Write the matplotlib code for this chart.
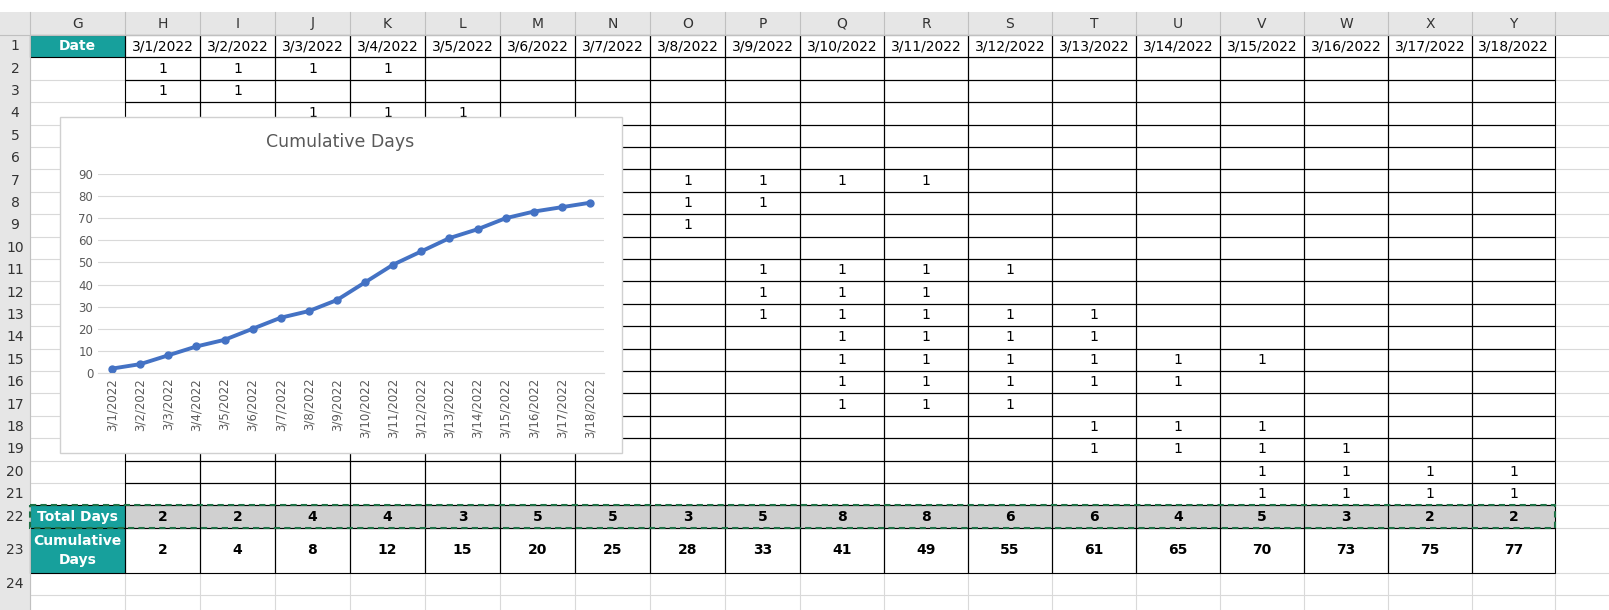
import matplotlib
matplotlib.use("Agg")
import matplotlib.pyplot as plt
from matplotlib.patches import Rectangle

dates = [f"3/{d}/2022" for d in range(1, 19)]
col_letters = list("HIJKLMNOPQRSTUVWXY")
total_days = [2, 2, 4, 4, 3, 5, 5, 3, 5, 8, 8, 6, 6, 4, 5, 3, 2, 2]
cumulative = [2, 4, 8, 12, 15, 20, 25, 28, 33, 41, 49, 55, 61, 65, 70, 73, 75, 77]
ones = {2: "HIJK", 3: "HI", 4: "JKL", 7: "OPQR", 8: "OP", 9: "O", 11: "PQRS",
        12: "PQR", 13: "PQRST", 14: "QRST", 15: "QRSTUV", 16: "QRSTU", 17: "QRS",
        18: "TUV", 19: "TUVW", 20: "VWXY", 21: "VWXY"}

W, H = 1609, 610
fig = plt.figure(figsize=(W / 100, H / 100), dpi=100)
ax = fig.add_axes([0, 0, 1, 1])
ax.set_xlim(0, W); ax.set_ylim(H, 0); ax.axis("off")

teal = "#17A09C"
xb = [0, 30, 125] + [125 + 75 * i for i in range(1, 10)]
xb += [800 + 84 * i for i in range(1, 10)]
xb[-1] = 1555
col_edges = xb
hdr_top, hdr_bot = 12, 35
row_tops = {}
y = hdr_bot
for r in range(1, 25):
    h = 45 if r == 23 else 22.4
    row_tops[r] = (y, y + h)
    y += h

fs = 10
ax.add_patch(Rectangle((0, hdr_top), W, hdr_bot - hdr_top, fc="#E6E6E6", ec="none"))
ax.add_patch(Rectangle((0, hdr_top), 30, H, fc="#E6E6E6", ec="none"))
letters = ["G"] + col_letters
for i, L in enumerate(letters):
    x0, x1 = col_edges[i + 1], col_edges[i + 2]
    ax.text((x0 + x1) / 2, (hdr_top + hdr_bot) / 2, L, ha="center", va="center", fontsize=fs, color="#333")
    ax.plot([x1, x1], [hdr_top, hdr_bot], color="#C0C0C0", lw=0.8)
for r, (t, b) in row_tops.items():
    ax.plot([0, W], [b, b], color="#D9D9D9", lw=0.8, zorder=0)
    ax.text(15, (t + b) / 2, str(r), ha="center", va="center", fontsize=fs, color="#333")
for x in col_edges[1:]:
    ax.plot([x, x], [hdr_bot, H], color="#D9D9D9", lw=0.8, zorder=0)
ax.plot([0, W], [hdr_bot, hdr_bot], color="#C0C0C0", lw=0.8)
ax.plot([30, 30], [hdr_top, H], color="#C0C0C0", lw=0.8)

gx0, gx1 = col_edges[1], col_edges[2]
for r, label in [(1, "Date"), (22, "Total Days"), (23, "Cumulative\nDays")]:
    t, b = row_tops[r]
    ax.add_patch(Rectangle((gx0, t), gx1 - gx0, b - t, fc=teal, ec="black", lw=0.8))
    ax.text((gx0 + gx1) / 2, (t + b) / 2, label, ha="center", va="center", color="white",
            fontsize=fs, fontweight="bold", linespacing=1.5)
t22, b22 = row_tops[22]
ax.add_patch(Rectangle((col_edges[2], t22), 1555 - col_edges[2], b22 - t22, fc="#D0D0D0", ec="none"))

for j in range(18):
    x0, x1 = col_edges[j + 2], col_edges[j + 3]
    cx = (x0 + x1) / 2
    for r in range(1, 24):
        t, b = row_tops[r]
        ax.add_patch(Rectangle((x0, t), x1 - x0, b - t, fc="none", ec="black", lw=0.8))
    t, b = row_tops[1]
    ax.text(cx, (t + b) / 2, dates[j], ha="center", va="center", fontsize=fs)
    for r, cols in ones.items():
        if col_letters[j] in cols:
            t, b = row_tops[r]
            ax.text(cx, (t + b) / 2, "1", ha="center", va="center", fontsize=fs)
    t, b = row_tops[22]
    ax.text(cx, (t + b) / 2, str(total_days[j]), ha="center", va="center", fontsize=fs, fontweight="bold")
    t, b = row_tops[23]
    ax.text(cx, (t + b) / 2, str(cumulative[j]), ha="center", va="center", fontsize=fs, fontweight="bold")
ax.add_patch(Rectangle((gx0, t22), 1555 - gx0, b22 - t22, fc="none", ec="#1E7145", lw=1.5, ls=(0, (3, 2)), zorder=5))

ax.add_patch(Rectangle((60, 117), 562, 336, fc="white", ec="#D0D0D0", lw=1, zorder=6))
ax.text(340, 142, "Cumulative Days", ha="center", va="center", fontsize=12.5, color="#595959", zorder=7)

cax = fig.add_axes([98 / W, (H - 373) / H, 506 / W, 199 / H])
cax.set_zorder(10)
cax.patch.set_alpha(0)
xs = range(len(dates))
cax.plot(xs, cumulative, color="#4472C4", lw=2.8, marker="o", ms=5)
cax.set_xlim(-0.5, 17.5); cax.set_ylim(0, 90)
cax.set_yticks(range(0, 91, 10))
cax.set_xticks(list(xs)); cax.set_xticklabels(dates, rotation=90, fontsize=8.5, color="#595959")
cax.tick_params(axis="y", labelsize=8.5, colors="#595959", length=0)
cax.tick_params(axis="x", length=0)
cax.grid(axis="y", color="#D9D9D9", lw=0.8)
for s in ["top", "right", "left"]:
    cax.spines[s].set_visible(False)
cax.spines["bottom"].set_color("#D9D9D9")

fig.savefig("out.png", dpi=100)
